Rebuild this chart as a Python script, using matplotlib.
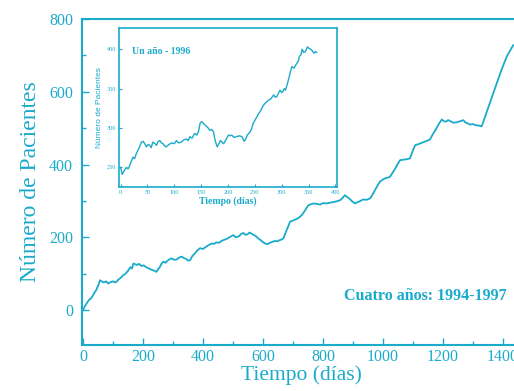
import matplotlib
matplotlib.use("Agg")
import matplotlib.pyplot as plt
from matplotlib.ticker import MultipleLocator

C = '#1aabca'

# Main series: four years 1994-1997
main_days = [0, 6, 12, 20, 28, 36, 44, 52, 57, 64, 70, 77, 84, 92, 100, 106, 112, 118, 125, 130, 134, 142,
             150, 158, 163, 168, 174, 180, 187, 195, 202, 210, 218, 225, 232, 238, 245, 250, 256, 262, 268,
             275, 282, 289, 296, 304, 312, 320, 329, 336, 343, 350, 357, 364, 372, 380, 390, 400, 410, 420,
             429, 437, 445, 453, 462, 470, 480, 490, 501, 510, 520, 527, 534, 541, 548, 555, 562, 568, 575,
             580, 584, 591, 598, 605, 612, 619, 626, 633, 640, 648, 655, 662, 668, 674, 680, 685, 690, 697,
             705, 714, 723, 730, 737, 744, 751, 760, 768, 778, 790, 800, 812, 823, 835, 846, 857, 865, 873,
             880, 890, 898, 907, 913, 920, 927, 934, 945, 957, 962, 968, 973, 979, 985, 990, 998, 1007, 1015,
             1023, 1030, 1040, 1048, 1057, 1065, 1073, 1082, 1090, 1098, 1107, 1118, 1130, 1143, 1157, 1165,
             1175, 1185, 1196, 1203, 1210, 1217, 1223, 1234, 1245, 1256, 1268, 1274, 1280, 1290, 1300, 1310,
             1320, 1329, 1345, 1362, 1379, 1395, 1412, 1423, 1434]
main_vals = [0, 10, 18, 28, 33, 45, 55, 70, 82, 78, 76, 79, 73, 77, 79, 76, 78, 84, 88, 92, 96, 100,
             108, 118, 114, 128, 126, 124, 127, 121, 123, 118, 115, 112, 110, 108, 105, 112, 118, 128, 133,
             130, 136, 140, 142, 138, 139, 144, 147, 143, 141, 136, 137, 148, 155, 163, 170, 168, 174, 179,
             183, 182, 186, 185, 190, 193, 196, 201, 206, 200, 203, 209, 212, 207, 208, 213, 210, 207, 204,
             200, 197, 193, 188, 184, 181, 183, 186, 188, 190, 189, 192, 194, 197, 210, 222, 232, 243, 245,
             248, 251, 256, 262, 270, 279, 288, 291, 293, 292, 290, 294, 293, 295, 297, 299, 302, 308, 316,
             311, 305, 298, 293, 296, 298, 301, 304, 303, 307, 313, 322, 330, 339, 347, 353, 358, 362, 364,
             366, 375, 388, 400, 412, 413, 414, 415, 417, 435, 453, 456, 460, 464, 469, 482,
             495, 510, 524, 519, 518, 522, 520, 515, 516, 519, 522, 516, 514, 510, 511, 508,
             507, 505, 543, 583, 623, 660, 696, 712, 728]

# Inset series: one year 1996
inset_days = [0, 3, 7, 11, 14, 17, 20, 23, 26, 29, 34, 39, 42, 45, 48, 51, 54, 57, 60, 64, 67, 70, 73,
              76, 79, 82, 85, 90, 95, 100, 104, 108, 113, 118, 123, 126, 129, 133, 138, 142, 145, 148, 151,
              154, 157, 160, 163, 166, 170, 173, 176, 180, 183, 186, 189, 192, 196, 201, 204, 207, 211, 216,
              221, 226, 230, 233, 236, 241, 244, 247, 252, 257, 261, 266, 270, 275, 280, 285, 288, 291, 294,
              297, 300, 302, 305, 307, 311, 315, 319, 323, 328, 331, 333, 336, 338, 341, 344, 348, 351, 354,
              357, 360, 363, 365]
inset_vals = [250, 241, 246, 250, 248, 252, 258, 263, 261, 267, 274, 282, 283, 280, 276, 279, 278, 275,
              282, 280, 278, 283, 284, 281, 280, 277, 276, 279, 281, 280, 284, 281, 282, 285, 286, 284, 289,
              287, 293, 291, 295, 306, 308, 306, 304, 302, 300, 297, 298, 295, 284, 276, 280, 284, 282, 280,
              285, 291, 290, 291, 288, 289, 290, 289, 283, 286, 291, 295, 299, 306, 312, 318, 322, 329, 332,
              335, 337, 342, 339, 340, 344, 348, 345, 346, 350, 348, 357, 368, 378, 376, 382, 385, 391, 393,
              400, 396, 397, 403, 401, 400, 398, 395, 397, 396]

main_xticks = [0, 200, 400, 600, 800, 1000, 1200, 1400]
main_yticks = [0, 200, 400, 600, 800]
inset_xticks = [0, 50, 100, 150, 200, 250, 300, 350, 400]
inset_yticks = [250, 300, 350, 400]

W, H = 514, 391
fig = plt.figure(figsize=(W / 100, H / 100), dpi=100)
serif = ['Liberation Serif', 'DejaVu Serif']

# main axes (extends past right edge as in the scan)
ax = fig.add_axes([81.5 / W, 46 / H, 439.5 / W, 326 / H])
ax.plot(main_days, main_vals, color=C, lw=1.3)
ax.set_xlim(-5, 1460)
ax.set_ylim(-96, 800)
ax.set_xticks(main_xticks)
ax.set_yticks(main_yticks)
ax.xaxis.set_minor_locator(MultipleLocator(100))
ax.yaxis.set_minor_locator(MultipleLocator(100))
ax.tick_params(which='both', direction='in', colors=C, labelcolor=C, width=1)
ax.tick_params(which='major', length=5)
ax.tick_params(which='minor', length=3)
ax.tick_params(axis='x', pad=3)
ax.tick_params(axis='y', pad=6)
for lab in ax.get_xticklabels() + ax.get_yticklabels():
    lab.set_fontfamily(serif)
    lab.set_fontsize(11.5)
for s in ['left', 'bottom', 'top']:
    ax.spines[s].set_color(C)
    ax.spines[s].set_linewidth(1.5)
ax.spines['right'].set_visible(False)
ax.set_xlabel('Tiempo (días)', family=serif, fontsize=15.5, color=C, labelpad=0)
ax.set_ylabel('Número de Pacientes', family=serif, fontsize=17, color=C, labelpad=6)
fig.text(425 / W, 1 - 296 / H, 'Cuatro años: 1994-1997', family=serif, fontsize=11.5,
         fontweight='bold', color=C, ha='center', va='center')

# inset axes
ai = fig.add_axes([119 / W, 1 - 187 / H, 218 / W, 159 / H], facecolor='white')
ai.plot(inset_days, inset_vals, color=C, lw=1.0)
ai.set_xlim(-3, 403)
ai.set_ylim(225, 427)
ai.set_xticks(inset_xticks)
ai.set_yticks(inset_yticks)
ai.tick_params(which='both', direction='in', colors=C, labelcolor=C, length=2, width=0.8,
               labelsize=4.5, pad=2)
for lab in ai.get_xticklabels() + ai.get_yticklabels():
    lab.set_fontfamily(serif)
for s in ai.spines.values():
    s.set_color(C)
    s.set_linewidth(1.2)
ai.set_xlabel('Tiempo (días)', family=serif, fontsize=7, fontweight='bold', color=C, labelpad=1)
ai.set_ylabel('Número de Pacientes', family=['Liberation Sans', 'DejaVu Sans'], fontsize=6,
              color=C, labelpad=3)
ai.text(0.06, 0.85, 'Un año - 1996', transform=ai.transAxes, family=serif, fontsize=7,
        fontweight='bold', color=C, ha='left', va='center')

fig.savefig('out.png', dpi=100)
